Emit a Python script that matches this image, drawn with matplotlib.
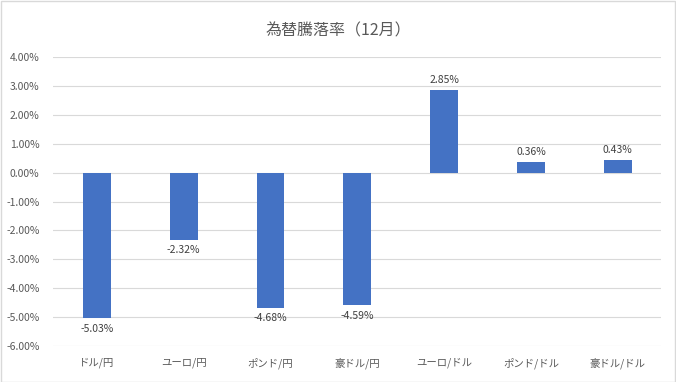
import matplotlib
matplotlib.use("Agg")
import matplotlib.pyplot as plt
from matplotlib.ticker import FuncFormatter, MultipleLocator

plt.rcParams['font.family'] = ['Noto Sans CJK JP', 'DejaVu Sans']

# data
categories = ['ドル/円', 'ユーロ/円', 'ポンド/円', '豪ドル/円', 'ユーロ/ドル', 'ポンド/ドル', '豪ドル/ドル']
changes = [-5.03, -2.32, -4.68, -4.59, 2.85, 0.36, 0.43]
title = '為替騰落率（12月）'

fig = plt.figure(figsize=(6.76, 3.82), dpi=100)
ax = fig.add_axes([0.079, 0.094, 0.899, 0.757])

x = range(len(categories))
ax.bar(x, changes, width=0.32, color='#4472C4', zorder=3)

# value labels above / below the bars
for xi, v in zip(x, changes):
    if v >= 0:
        ax.annotate(f'{v:.2f}%', (xi, v), xytext=(0, 4), textcoords='offset points',
                    ha='center', va='bottom', fontsize=7.5, color='#404040')
    else:
        ax.annotate(f'{v:.2f}%', (xi, v), xytext=(0, -4), textcoords='offset points',
                    ha='center', va='top', fontsize=7.5, color='#404040')

ax.set_xlim(-0.5, len(categories) - 0.5)
ax.set_ylim(-6, 4)
ax.yaxis.set_major_locator(MultipleLocator(1))
ax.yaxis.set_major_formatter(FuncFormatter(lambda v, p: f'{v:.2f}%'))
ax.set_xticks(list(x))
ax.set_xticklabels(categories)
ax.tick_params(axis='both', length=0, labelsize=7.5, labelcolor='#595959')
ax.tick_params(axis='x', pad=8)
ax.tick_params(axis='y', pad=10)
ax.grid(axis='y', color='#D9D9D9', linewidth=0.8, zorder=0)
for s in ax.spines.values():
    s.set_visible(False)

fig.text(0.5, 0.92, title, ha='center', va='center', fontsize=11.5, color='#595959')

# outer chart border like the Excel frame
fig.patches.append(plt.Rectangle((0.001, 0.001), 0.998, 0.997, transform=fig.transFigure,
                                 fill=False, edgecolor='#D9D9D9', linewidth=1))

fig.savefig('out.png', dpi=100)
